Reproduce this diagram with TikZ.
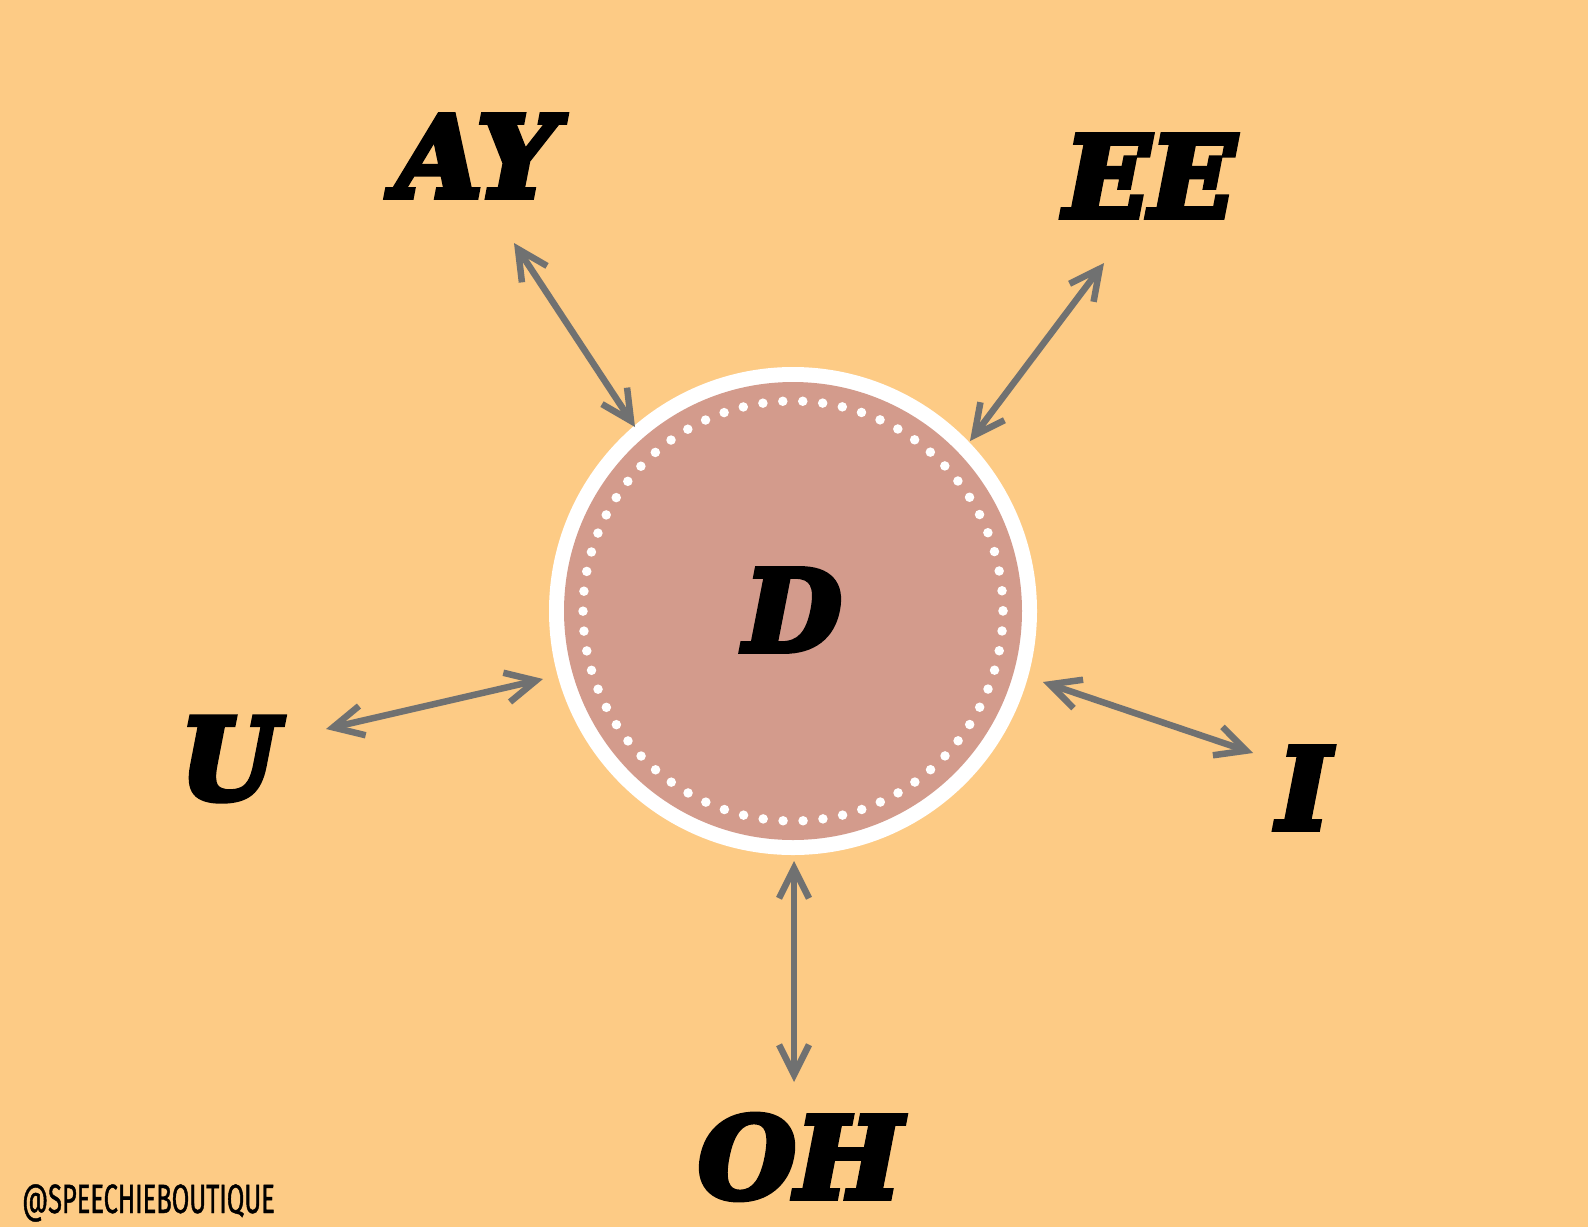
\documentclass[tikz,border=0pt]{standalone}
\usepackage{fontspec}
\usetikzlibrary{arrows.meta}
\newfontfamily\labfont{DejaVu Serif}[BoldItalicFeatures={FakeBold=5.5}]
\newfontfamily\markfont{Fira Sans}[FakeStretch=0.62,FakeBold=1]
\definecolor{bgpeach}{RGB}{253,203,133}
\definecolor{rosepink}{RGB}{211,155,140}
\definecolor{arrowgray}{RGB}{112,113,113}
\tikzset{
  lab/.style={font=\labfont\bfseries\itshape\fontsize{112}{112}\selectfont, text=black, inner sep=0pt, anchor=center},
  link/.style={draw=arrowgray, line width=6.5pt, line cap=round,
    {Straight Barb[length=30pt,width=30pt,line width=6.5pt]}-{Straight Barb[length=30pt,width=30pt,line width=6.5pt]}},
}
\begin{document}
\begin{tikzpicture}[x=1pt,y=-1pt]
\fill[bgpeach] (0,0) rectangle (1588,1227);
\useasboundingbox (0,0) rectangle (1588,1227);
% central circle
\fill[white] (793,611) circle[radius=244];
\fill[rosepink] (793,611) circle[radius=229];
\draw[white, line width=9.5pt, line cap=round, dash pattern=on 0pt off 19.99pt] (793,611) circle[radius=210];
\node[lab] (d) at (793,610) {D};
% labels
\node[lab] (ay) at (476,156) {AY};
\node[lab] (ee) at (1150,176) {EE};
\node[lab] (u) at (229,759) {U};
\node[lab] (i) at (1304,788) {I};
\node[lab] (oh) at (800,1157) {OH};
\node[font=\markfont\fontsize{41}{41}\selectfont, text=black, inner sep=0pt, anchor=west] (mark) at (22,1203) {@SPEECHIEBOUTIQUE};
% arrow ends
\coordinate (ay1) at (514,243); \coordinate (ay2) at (635,427);
\coordinate (ee1) at (1104,263); \coordinate (ee2) at (970,441);
\coordinate (u1) at (326,729); \coordinate (u2) at (543,679);
\coordinate (i1) at (1253,753); \coordinate (i2) at (1043,682);
\coordinate (oh1) at (794,1082); \coordinate (oh2) at (794,861);
\draw[link] (ay1) -- (ay2);
\draw[link] (ee1) -- (ee2);
\draw[link] (u1) -- (u2);
\draw[link] (i1) -- (i2);
\draw[link] (oh1) -- (oh2);
\end{tikzpicture}
\end{document}
